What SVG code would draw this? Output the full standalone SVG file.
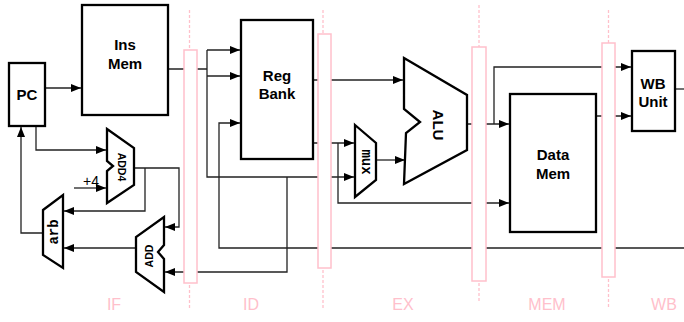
<svg xmlns="http://www.w3.org/2000/svg" width="684" height="322" viewBox="0 0 684 322">
<style>
.box{fill:#fff;stroke:#000;stroke-width:2.3}
.blk{fill:#fff;stroke:#000;stroke-width:2.3;stroke-linejoin:miter}
.w{fill:none;stroke:#222;stroke-width:1.3}
.reg{fill:#fff;stroke:#ffc0cb;stroke-width:1.5}
.dash{stroke:#ffc0cb;stroke-width:1.3;stroke-dasharray:3 2;fill:none}
.lbl{font-family:"Liberation Sans",Arial,sans-serif;font-weight:bold;font-size:15px;fill:#000;text-anchor:middle}
.sm{font-family:"Liberation Sans",Arial,sans-serif;font-weight:bold;font-size:10.5px;fill:#000;text-anchor:middle}
.mono{font-family:"Liberation Mono","Courier New",monospace;font-weight:bold;font-size:14px;fill:#000;text-anchor:middle}
.stage{font-family:"Liberation Sans",Arial,sans-serif;font-size:16px;fill:#ffc0cb;text-anchor:middle}
.plus{font-family:"Liberation Sans",Arial,sans-serif;font-size:14px;fill:#000}
</style>
<defs>
<marker id="ah" markerUnits="userSpaceOnUse" markerWidth="10" markerHeight="8" refX="10" refY="4" orient="auto">
<path d="M0,0 L10,4 L0,8 z" fill="#000"/>
</marker>
</defs>

<g id="connectors">
<path class="w" d="M45,88 H81" marker-end="url(#ah)"/>
<path class="w" d="M36,126 V150 H106" marker-end="url(#ah)"/>
<path class="w" d="M74,188 H106" marker-end="url(#ah)"/>
<path class="w" d="M134,168 H179 V227 H165" marker-end="url(#ah)"/>
<path class="w" d="M145,168 V211 H64" marker-end="url(#ah)"/>
<path class="w" d="M136,248 H64" marker-end="url(#ah)"/>
<path class="w" d="M43,233 H21 V127" marker-end="url(#ah)"/>
<path class="w" d="M168,69 H207"/>
<path class="w" d="M207,50 V177 H354" marker-end="url(#ah)"/>
<path class="w" d="M207,50 H240" marker-end="url(#ah)"/>
<path class="w" d="M207,76 H240" marker-end="url(#ah)"/>
<path class="w" d="M684,248 H219 V123 H240" marker-end="url(#ah)"/>
<path class="w" d="M287,177 V272 H165" marker-end="url(#ah)"/>
<path class="w" d="M313,80 H403" marker-end="url(#ah)"/>
<path class="w" d="M313,143 H354" marker-end="url(#ah)"/>
<path class="w" d="M338,143 V203 H509" marker-end="url(#ah)"/>
<path class="w" d="M376,160 H405" marker-end="url(#ah)"/>
<path class="w" d="M467,124 H509" marker-end="url(#ah)"/>
<path class="w" d="M494,124 V67 H631" marker-end="url(#ah)"/>
<path class="w" d="M596,116 H631" marker-end="url(#ah)"/>
<path class="w" d="M675,89 H684"/>
</g>

<g id="pipeline-registers">
<path class="dash" d="M189.5,10 V50 M189.5,285 V310"/>
<rect class="reg" x="184" y="50" width="13" height="233"/>
<path class="dash" d="M323,10 V34 M323,270 V310"/>
<rect class="reg" x="318" y="34" width="13" height="234"/>
<path class="dash" d="M479,5 V47 M479,283 V303"/>
<rect class="reg" x="472" y="47" width="14" height="234"/>
<path class="dash" d="M608.5,10 V43 M608.5,279 V308"/>
<rect class="reg" x="602" y="43" width="13" height="234"/>
</g>

<g id="pc"><rect class="box" x="9" y="63" width="36" height="63"/><text class="lbl" x="27" y="100">PC</text></g>
<g id="insmem"><rect class="box" x="82" y="5" width="86" height="110"/><text class="lbl" x="125" y="50">Ins</text><text class="lbl" x="125" y="69">Mem</text></g>
<g id="add4"><polygon class="blk" points="107,129 134,148 134,185 107,203 107,171 113,166 107,161"/><text class="sm" transform="translate(122,167) rotate(90)" y="4">ADD4</text></g>
<g id="plus4"><text class="plus" x="83" y="186">+4</text></g>
<g id="add"><polygon class="blk" points="164,217 164,245 158,252 164,259 164,292 136,272 136,237"/><text class="sm" transform="translate(149,256) rotate(-90)" y="4">ADD</text></g>
<g id="arb"><polygon class="blk" points="43,210 63,195 63,268 43,255"/><text class="mono" transform="translate(54,232) rotate(-90)" y="4">arb</text></g>
<g id="regbank"><rect class="box" x="241" y="20" width="72" height="139"/><text class="lbl" x="277" y="81">Reg</text><text class="lbl" x="277" y="99">Bank</text></g>
<g id="mux"><polygon class="blk" points="355,125 376,143 376,180 355,197"/><text class="mono" transform="translate(366,162) rotate(90)" y="4">mux</text></g>
<g id="alu"><polygon class="blk" points="404,58 467,95 467,150 404,184 406,133 420,122 404,109"/><text class="lbl" transform="translate(438,125) rotate(90)" y="5">ALU</text></g>
<g id="datamem"><rect class="box" x="510" y="94" width="86" height="138"/><text class="lbl" x="553" y="160">Data</text><text class="lbl" x="553" y="179">Mem</text></g>
<g id="wbunit"><rect class="box" x="632" y="51" width="43" height="80"/><text class="lbl" x="653" y="89">WB</text><text class="lbl" x="653" y="107">Unit</text></g>

<g id="stages">
<text class="stage" x="114" y="310">IF</text>
<text class="stage" x="251" y="310">ID</text>
<text class="stage" x="403" y="310">EX</text>
<text class="stage" x="547" y="310">MEM</text>
<text class="stage" x="664" y="310">WB</text>
</g>
</svg>
